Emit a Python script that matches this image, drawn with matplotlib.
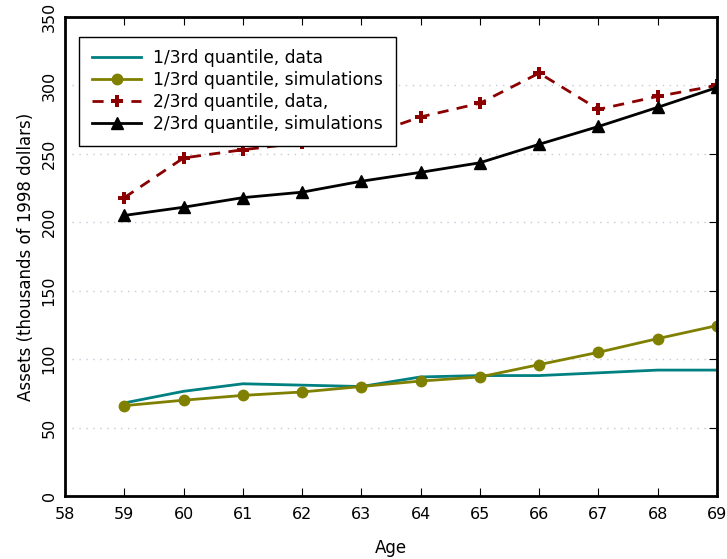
import matplotlib
matplotlib.use("Agg")
import matplotlib.pyplot as plt

# wiek i kwantyle aktywów (tys. dolarów z 1998)
ages = [59, 60, 61, 62, 63, 64, 65, 66, 67, 68, 69]
q1_data = [68, 76.5, 82, 81, 80, 87, 88, 88, 90, 92, 92]
q1_sim = [66, 70, 73.5, 76, 80, 84, 87, 96, 105, 115, 124.5]
q2_data = [218, 247, 253, 258, 262, 277, 287, 309, 282.5, 292, 300]
q2_sim = [205, 211, 218, 222, 230, 236.5, 243.5, 257, 270, 284, 298.5]

xticks = list(range(58, 70))
yticks = list(range(0, 351, 50))

fig = plt.figure(figsize=(7.27, 5.59), dpi=100)
ax = fig.add_axes([65 / 727, 1 - 496 / 559, (717 - 65) / 727, (496 - 17) / 559])

ax.plot(ages, q1_data, color="#008080", lw=2, label="1/3rd quantile, data")
ax.plot(ages, q1_sim, color="#808000", lw=2, marker="o", ms=7.5,
        label="1/3rd quantile, simulations")
ax.plot(ages, q2_data, color="#8B0000", lw=2, ls=(0, (4, 3)), marker="P", ms=8,
        markeredgewidth=0, label="2/3rd quantile, data,")
ax.plot(ages, q2_sim, color="black", lw=2, marker="^", ms=8,
        label="2/3rd quantile, simulations")

ax.set_xlim(58, 69)
ax.set_ylim(0, 350)
ax.set_xticks(xticks)
ax.set_yticks(yticks)
for y in yticks[1:-1]:
    ax.axhline(y, color="#c8c8d8", lw=1, ls=(0, (1, 4)), zorder=0)

ax.tick_params(axis="x", direction="in", top=True, length=6, labelsize=11.5, pad=8)
ax.tick_params(axis="y", direction="in", left=False, right=True, length=6, labelsize=11.5, pad=6)
for lbl in ax.get_yticklabels():
    lbl.set_rotation(90)
    lbl.set_va("center")

for side in ["left", "bottom", "top", "right"]:
    ax.spines[side].set_linewidth(2)

ax.set_xlabel("Age", fontsize=12, labelpad=12)
ax.set_ylabel("Assets (thousands of 1998 dollars)", fontsize=12, labelpad=5)

leg = ax.legend(loc="upper left", bbox_to_anchor=(0.0215, 0.959), borderaxespad=0,
                fontsize=12.3, handlelength=2.9, handletextpad=0.7,
                frameon=True, fancybox=False, framealpha=1,
                edgecolor="black", borderpad=0.75, labelspacing=0.22)
leg.get_frame().set_linewidth(1)

fig.savefig("out.png", dpi=100)
